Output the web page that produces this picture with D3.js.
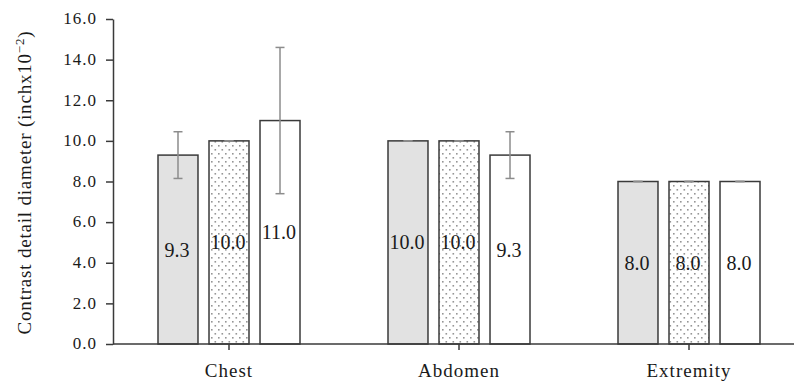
<!DOCTYPE html>
<html><head><meta charset="utf-8">
<script src="https://cdn.jsdelivr.net/npm/d3@7"></script>
<style>
html,body{margin:0;padding:0;background:#fff;}
svg{display:block;font-family:"Liberation Serif","Times New Roman",serif;}
</style></head>
<body>
<svg id="chart" width="794" height="386"></svg>
<script>
const categories = ["Chest", "Abdomen", "Extremity"];
const seriesNames = ["A", "B", "C"];
const seriesA = [9.3, 10.0, 8.0];
const seriesB = [10.0, 10.0, 8.0];
const seriesC = [11.0, 9.3, 8.0];
const errA = [1.15, 0, 0];
const errB = [0, 0, 0];
const errC = [3.6, 1.15, 0];
const yTicks = [0, 2, 4, 6, 8, 10, 12, 14, 16];
const yTitle = "Contrast detail diameter (inchx10";
const yTitleSup = "\u22122";

(function () {
const svg = d3.select("#chart");
const W = 794, H = 386;
const mLeft = 113, mTop = 19, mBottom = 344;

const defs = svg.append("defs");
const pat = defs.append("pattern").attr("id", "dots").attr("patternUnits", "userSpaceOnUse")
  .attr("width", 7).attr("height", 8);
pat.append("rect").attr("width", 7).attr("height", 8).attr("fill", "#fff");
pat.append("rect").attr("x", 1).attr("y", 1).attr("width", 1.6).attr("height", 1.6).attr("fill", "#969696");
pat.append("rect").attr("x", 4.5).attr("y", 5).attr("width", 1.6).attr("height", 1.6).attr("fill", "#969696");

const fills = ["#e2e2e2", "url(#dots)", "#ffffff"];

const y = d3.scaleLinear().domain([0, 16]).range([mBottom, mTop]);
const x0 = d3.scaleBand().domain(categories).range([114, 804]).padding(0);
const x1 = d3.scaleBand().domain(seriesNames).range([-71, 71]).paddingInner(0.216).paddingOuter(0);

const data = [];
const vals = [seriesA, seriesB, seriesC];
const errs = [errA, errB, errC];
categories.forEach((c, i) => {
  seriesNames.forEach((s, j) => {
    data.push({cat: c, ser: s, si: j, v: vals[j][i], e: errs[j][i]});
  });
});

const g = svg.append("g");
g.selectAll("rect.bar").data(data).enter().append("rect")
  .attr("class", "bar")
  .attr("x", d => x0(d.cat) + x0.bandwidth() / 2 + x1(d.ser))
  .attr("y", d => y(d.v))
  .attr("width", x1.bandwidth())
  .attr("height", d => y(0) - y(d.v))
  .attr("fill", d => fills[d.si])
  .attr("stroke", "#3a3a3a")
  .attr("stroke-width", 1.5);

const eg = svg.append("g").attr("stroke", "#8c8c8c").attr("stroke-width", 1.5).attr("fill", "none");
data.forEach(d => {
  const cx = x0(d.cat) + x0.bandwidth() / 2 + x1(d.ser) + x1.bandwidth() / 2;
  const cap = 4.5;
  if (d.e > 0) {
    eg.append("line").attr("x1", cx).attr("x2", cx).attr("y1", y(d.v + d.e)).attr("y2", y(d.v - d.e));
  }
  eg.append("line").attr("x1", cx - cap).attr("x2", cx + cap).attr("y1", y(d.v + d.e)).attr("y2", y(d.v + d.e));
  eg.append("line").attr("x1", cx - cap).attr("x2", cx + cap).attr("y1", y(d.v - d.e)).attr("y2", y(d.v - d.e));
});

svg.append("g").selectAll("text").data(data).enter().append("text")
  .attr("x", d => x0(d.cat) + x0.bandwidth() / 2 + x1(d.ser) + x1.bandwidth() / 2 - 1)
  .attr("y", d => y(d.v / 2))
  .attr("dy", "0.35em")
  .attr("text-anchor", "middle")
  .attr("font-size", 20)
  .attr("fill", "#1a1a1a")
  .text(d => d.v.toFixed(1));

const yAxis = d3.axisLeft(y).tickValues(yTicks).tickFormat(d3.format(".1f")).tickSize(7).tickPadding(9).tickSizeOuter(0);
const ya = svg.append("g").attr("transform", `translate(${mLeft},0)`).call(yAxis);
ya.attr("font-family", null).attr("font-size", null);
ya.select(".domain").attr("stroke", "#3a3a3a").attr("stroke-width", 1.5);
ya.selectAll(".tick line").attr("stroke", "#3a3a3a").attr("stroke-width", 1.5);
ya.selectAll(".tick text").attr("font-size", 17).attr("letter-spacing", 1).attr("fill", "#1a1a1a")
  .attr("dy", "0.28em");

const xAxis = d3.axisBottom(x0).tickSize(6).tickPadding(14).tickSizeOuter(0);
const xa = svg.append("g").attr("transform", `translate(0,${mBottom})`).call(xAxis);
xa.attr("font-family", null).attr("font-size", null);
xa.select(".domain").attr("d", `M${mLeft},0H${W}`).attr("stroke", "#3a3a3a").attr("stroke-width", 1.5);
xa.selectAll(".tick line").attr("stroke", "#3a3a3a").attr("stroke-width", 1.5);
xa.selectAll(".tick text").attr("font-size", 19).attr("letter-spacing", 1).attr("fill", "#1a1a1a");

const t = svg.append("text")
  .attr("transform", `translate(31,${(mTop + mBottom) / 2 + 1}) rotate(-90)`)
  .attr("text-anchor", "middle")
  .attr("font-size", 19)
  .attr("letter-spacing", 0.8)
  .attr("fill", "#1a1a1a");
t.append("tspan").text(yTitle);
t.append("tspan").attr("font-size", 13).attr("dy", -7).text(yTitleSup);
t.append("tspan").attr("dy", 7).text(")");
})();
</script>
</body></html>
